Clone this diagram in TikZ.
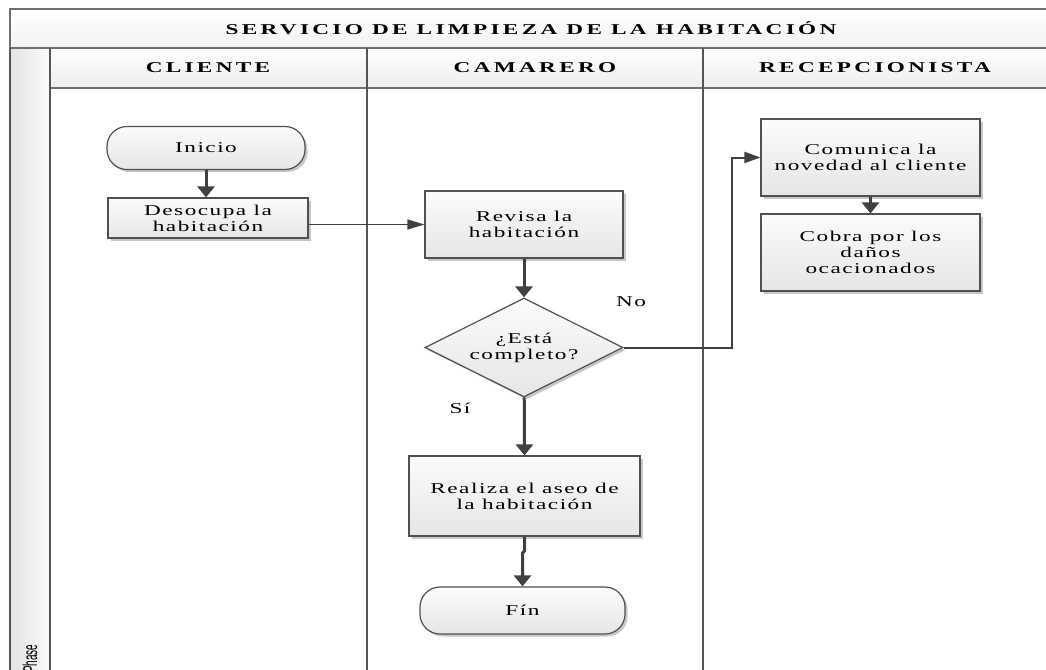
\documentclass[tikz,border=0pt]{standalone}
\usepackage{fontspec}
\setmainfont{Liberation Serif}[FakeStretch=1.55,LetterSpace=10]
\newfontfamily\headfont{Liberation Serif}[FakeStretch=1.55,LetterSpace=22]
\newfontfamily\phasefont{Liberation Sans}[FakeStretch=0.5]
\usetikzlibrary{shapes.geometric,arrows.meta,shadows}

\definecolor{edge}{HTML}{505050}
\definecolor{ink}{HTML}{404040}
\definecolor{frameline}{HTML}{707070}
\definecolor{laneline}{HTML}{555555}

\begin{document}
\begin{tikzpicture}[x=1pt,y=-1pt,
  every node/.style={font=\fontsize{15}{16}\selectfont, text=black},
  box/.style={draw=edge, line width=1.2pt, top color=gray!3, bottom color=gray!20,
    drop shadow={shadow xshift=2.5pt, shadow yshift=-2.5pt, fill=black, opacity=0.22},
    align=center, inner sep=0pt},
  process/.style={box, rectangle},
  terminal/.style={box, rectangle, rounded corners=20pt},
  decision/.style={box, diamond, aspect=2},
  heading/.style={font=\headfont\bfseries\fontsize{15}{18}\selectfont},
  flow/.style={draw=ink, line width=3pt, -{Triangle[length=11pt,width=17pt]}},
  thinflow/.style={draw=ink, line width=1.3pt, -{Triangle[length=17pt,width=10pt]}},
  midflow/.style={draw=ink, line width=2pt, -{Triangle[length=16pt,width=11pt]}},
  frame/.style={draw=frameline, line width=2pt},
  lane/.style={draw=laneline, line width=2.2pt},
  tag/.style={inner sep=0pt}
]
\useasboundingbox (0,0) rectangle (1046,669);
\clip (0,0) rectangle (1046,669);

% pool header, lane headers and phase column
\path[top color=white, bottom color=gray!10] (10,9) rectangle (1052,48);
\path[top color=white, bottom color=gray!14] (50,48) rectangle (1052,88);
\path[left color=gray!22, right color=gray!3] (10,48) rectangle (50,680);

% frame and lane separators
\draw[frame] (1052,9) -- (10,9) -- (10,48);
\draw[frame] (10,48) -- (1052,48);
\draw[frame] (50,88) -- (1052,88);
\draw[lane] (10,48) -- (10,680);
\draw[lane] (50,48) -- (50,680);
\draw[lane] (367,48) -- (367,680);
\draw[lane] (703,48) -- (703,680);

\node[heading] (title) at (531,28) {SERVICIO DE LIMPIEZA DE LA HABITACIÓN};
\node[heading] (hcli) at (208,68) {CLIENTE};
\node[heading] (hcam) at (535,68) {CAMARERO};
\node[heading] (hrec) at (875,68) {RECEPCIONISTA};
\node[rotate=90, anchor=west, inner sep=0pt, font=\phasefont\fontsize{20}{20}\selectfont] (phase) at (30,673) {Phase};

% flow nodes
\node[terminal, minimum width=198pt, minimum height=43pt] (ini) at (206,148) {Inicio};
\node[process, minimum width=200pt, minimum height=40pt] (deso) at (208,218) {Desocupa la\\habitación};
\node[process, minimum width=198pt, minimum height=67pt] (rev) at (524,224.5) {Revisa la\\habitación};
\node[decision, minimum width=198pt, minimum height=99pt] (dec) at (524,347.5) {¿Está\\completo?};
\node[process, minimum width=231pt, minimum height=80pt] (real) at (524.5,496) {Realiza el aseo de\\la habitación};
\node[terminal, minimum width=205pt, minimum height=47pt] (fin) at (522.5,610.5) {Fín};
\node[process, minimum width=219pt, minimum height=77pt] (com) at (870.5,157.5) {Comunica la\\novedad al cliente};
\node[process, minimum width=219pt, minimum height=77pt] (cob) at (870.5,252.5) {Cobra por los\\daños\\ocacionados};

\node[tag] (no) at (631,302) {No};
\node[tag] (si) at (460,408) {Sí};

% connectors
\coordinate (bend) at (732,347.5);
\coordinate (step) at (524.5,551);
\draw[flow] (ini) -- (ini.south |- deso.north);
\draw[thinflow] (deso.east |- rev.west) -- (rev.west);
\draw[flow] (rev) -- (dec.north);
\draw[flow] (dec) -- (real.north);
\draw[flow] (real.south) -- (step) -- ++(-2,2) -- (fin.north);
\draw[midflow] (dec.east) -- (bend) |- (com.west);
\draw[flow] (com.south) -- (cob.north);
\end{tikzpicture}
\end{document}
